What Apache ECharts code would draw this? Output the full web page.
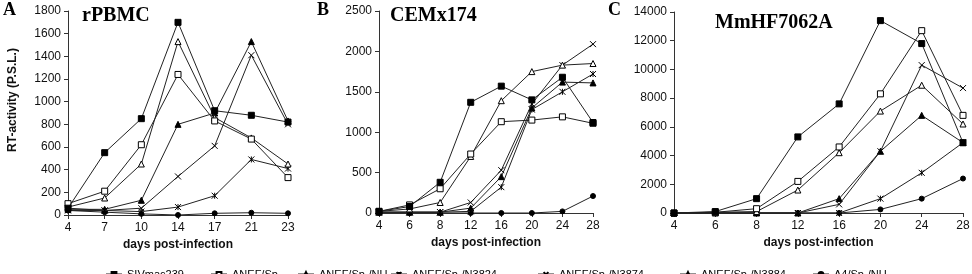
<!DOCTYPE html>
<html>
<head>
<meta charset="utf-8" />
<script src="https://cdn.jsdelivr.net/npm/echarts@6/dist/echarts.min.js"></script>
<style>body{margin:0;background:#fff;}</style>
</head>
<body>
<div id="main" style="width:972px;height:274px;"></div>
<script type="text/javascript">
// legend names and markers
var names = ['SIVmac239', 'ΔNEF/Sp-', 'ΔNEF/Sp-/NU', 'ΔNEF/Sp-/N3824', 'ΔNEF/Sp-/N3874', 'ΔNEF/Sp-/N3884', 'Δ4/Sp-/NU'];

// panel A - rPBMC
var daysA = ['4', '7', '10', '14', '17', '21', '23'];
var aSIV  = [60, 550, 850, 1700, 920, 880, 820];
var aSp   = [100, 210, 620, 1240, 830, 670, 330];
var aNU   = [70, 150, 450, 1530, 860, 680, 450];
var aStar = [40, 40, 30, 70, 170, 490, 410];
var aX    = [60, 40, 60, 340, 610, 1410, 800];
var aTri  = [50, 50, 130, 800, 900, 1530, 830];
var aCir  = [40, 25, 10, 0, 15, 20, 15];

// panel B - CEMx174
var daysB = ['4', '6', '8', '12', '16', '20', '24', '28'];
var bSIV  = [20, 80, 380, 1370, 1570, 1400, 1680, 1120];
var bSp   = [20, 100, 300, 730, 1130, 1150, 1190, 1110];
var bNU   = [20, 50, 130, 700, 1390, 1750, 1830, 1850];
var bStar = [10, 10, 10, 20, 320, 1280, 1500, 1720];
var bX    = [10, 10, 10, 130, 530, 1350, 1830, 2090];
var bTri  = [10, 10, 10, 60, 450, 1300, 1620, 1610];
var bCir  = [0, 0, 0, 0, 0, 0, 20, 210];

// panel C - MmHF7062A
var daysC = ['4', '6', '8', '12', '16', '20', '24', '28'];
var cSIV  = [0, 100, 1000, 5300, 7600, 13400, 11800, 4900];
var cSp   = [0, 50, 300, 2200, 4600, 8300, 12700, 6800];
var cNU   = [0, 50, 100, 1600, 4200, 7100, 8900, 6200];
var cStar = [0, 0, 0, 0, 0, 1000, 2800, 4900];
var cX    = [0, 0, 0, 0, 600, 4300, 10300, 8700];
var cTri  = [0, 0, 0, 0, 1000, 4300, 6800, 4900];
var cCir  = [0, 0, 0, 0, 0, 250, 1000, 2400];

var X_PATH = 'path://M0,0L10,10M10,0L0,10';
var STAR_PATH = 'path://M0,0L10,10M10,0L0,10M5,0L5,10';

// marker style per series index: [symbol, filled]
var marks = [['rect', true], ['rect', false], ['triangle', false], [STAR_PATH, false], [X_PATH, false], ['triangle', true], ['circle', true]];

var sansFont = 'Liberation Sans, Arial, sans-serif';
var serifFont = 'Liberation Serif, Times New Roman, serif';
var axisCol = '#333';

function xAx(idx, days) {
  return {
    type: 'category', gridIndex: idx, data: days, boundaryGap: false,
    name: 'days post-infection', nameLocation: 'middle', nameGap: 24,
    nameTextStyle: { fontFamily: sansFont, fontWeight: 'bold', fontSize: 12, color: '#111' },
    axisLine: { lineStyle: { color: axisCol, width: 1 } },
    axisTick: { length: 4, lineStyle: { color: axisCol } },
    axisLabel: { fontFamily: sansFont, fontSize: 12, color: '#111', margin: 7 },
    splitLine: { show: false }
  };
}

function yAx(idx, max, step) {
  return {
    type: 'value', gridIndex: idx, min: 0, max: max, interval: step,
    axisLine: { show: true, lineStyle: { color: axisCol, width: 1 } },
    axisTick: { show: true, length: 4, lineStyle: { color: axisCol } },
    axisLabel: { fontFamily: sansFont, fontSize: 12, color: '#111', margin: 7,
      formatter: function (v) { return String(v); } },
    splitLine: { show: false }
  };
}

var series = [];
function addPanel(idx, lists) {
  lists.forEach(function (vals, i) {
    var m = marks[i];
    series.push({
      name: names[i], type: 'line', xAxisIndex: idx, yAxisIndex: idx, data: vals,
      symbol: m[0], symbolSize: i === 6 ? 5 : 6, showAllSymbol: true,
      lineStyle: { color: '#222', width: 1 },
      itemStyle: { color: m[1] ? '#000' : '#fff', borderColor: '#000', borderWidth: 1 },
      z: 10 - i
    });
  });
}
addPanel(0, [aSIV, aSp, aNU, aStar, aX, aTri, aCir]);
addPanel(1, [bSIV, bSp, bNU, bStar, bX, bTri, bCir]);
addPanel(2, [cSIV, cSp, cNU, cStar, cX, cTri, cCir]);

var legendLeft = [105, 210, 297, 390, 537, 679, 812];
var legends = names.map(function (n, i) {
  return {
    data: [n], left: legendLeft[i], top: 269, padding: 0,
    itemWidth: 16, itemHeight: 6, itemGap: 0,
    textStyle: { fontFamily: sansFont, fontSize: 11, color: '#000' },
    selectedMode: false
  };
});

function ttl(text, left, top, size) {
  return { text: text, left: left, top: top, padding: 0,
    textStyle: { fontFamily: serifFont, fontWeight: 'bold', fontSize: size, color: '#000' } };
}

var myChart = echarts.init(document.getElementById('main'));
var option = {
  backgroundColor: '#fff',
  animation: false,
  title: [
    ttl('A', 3, 1, 18), ttl('B', 317, 1, 18), ttl('C', 608, 1, 18),
    ttl('rPBMC', 82, 6, 20), ttl('CEMx174', 390, 6, 20), ttl('MmHF7062A', 715, 13, 20)
  ],
  legend: legends,
  grid: [
    { left: 68, top: 11, width: 220, height: 204, outerBoundsMode: 'none' },
    { left: 379, top: 11, width: 214, height: 202, outerBoundsMode: 'none' },
    { left: 674, top: 12, width: 289, height: 201, outerBoundsMode: 'none' }
  ],
  xAxis: [xAx(0, daysA), xAx(1, daysB), xAx(2, daysC)],
  yAxis: [yAx(0, 1800, 200), yAx(1, 2500, 500), yAx(2, 14000, 2000)],
  graphic: [{
    type: 'text', x: 13, y: 100, rotation: Math.PI / 2,
    style: { text: 'RT-activity (P.S.L.)', font: 'bold 12px ' + sansFont, fill: '#111', textAlign: 'center', textVerticalAlign: 'middle' }
  }],
  series: series
};
myChart.setOption(option);
</script>
</body>
</html>
